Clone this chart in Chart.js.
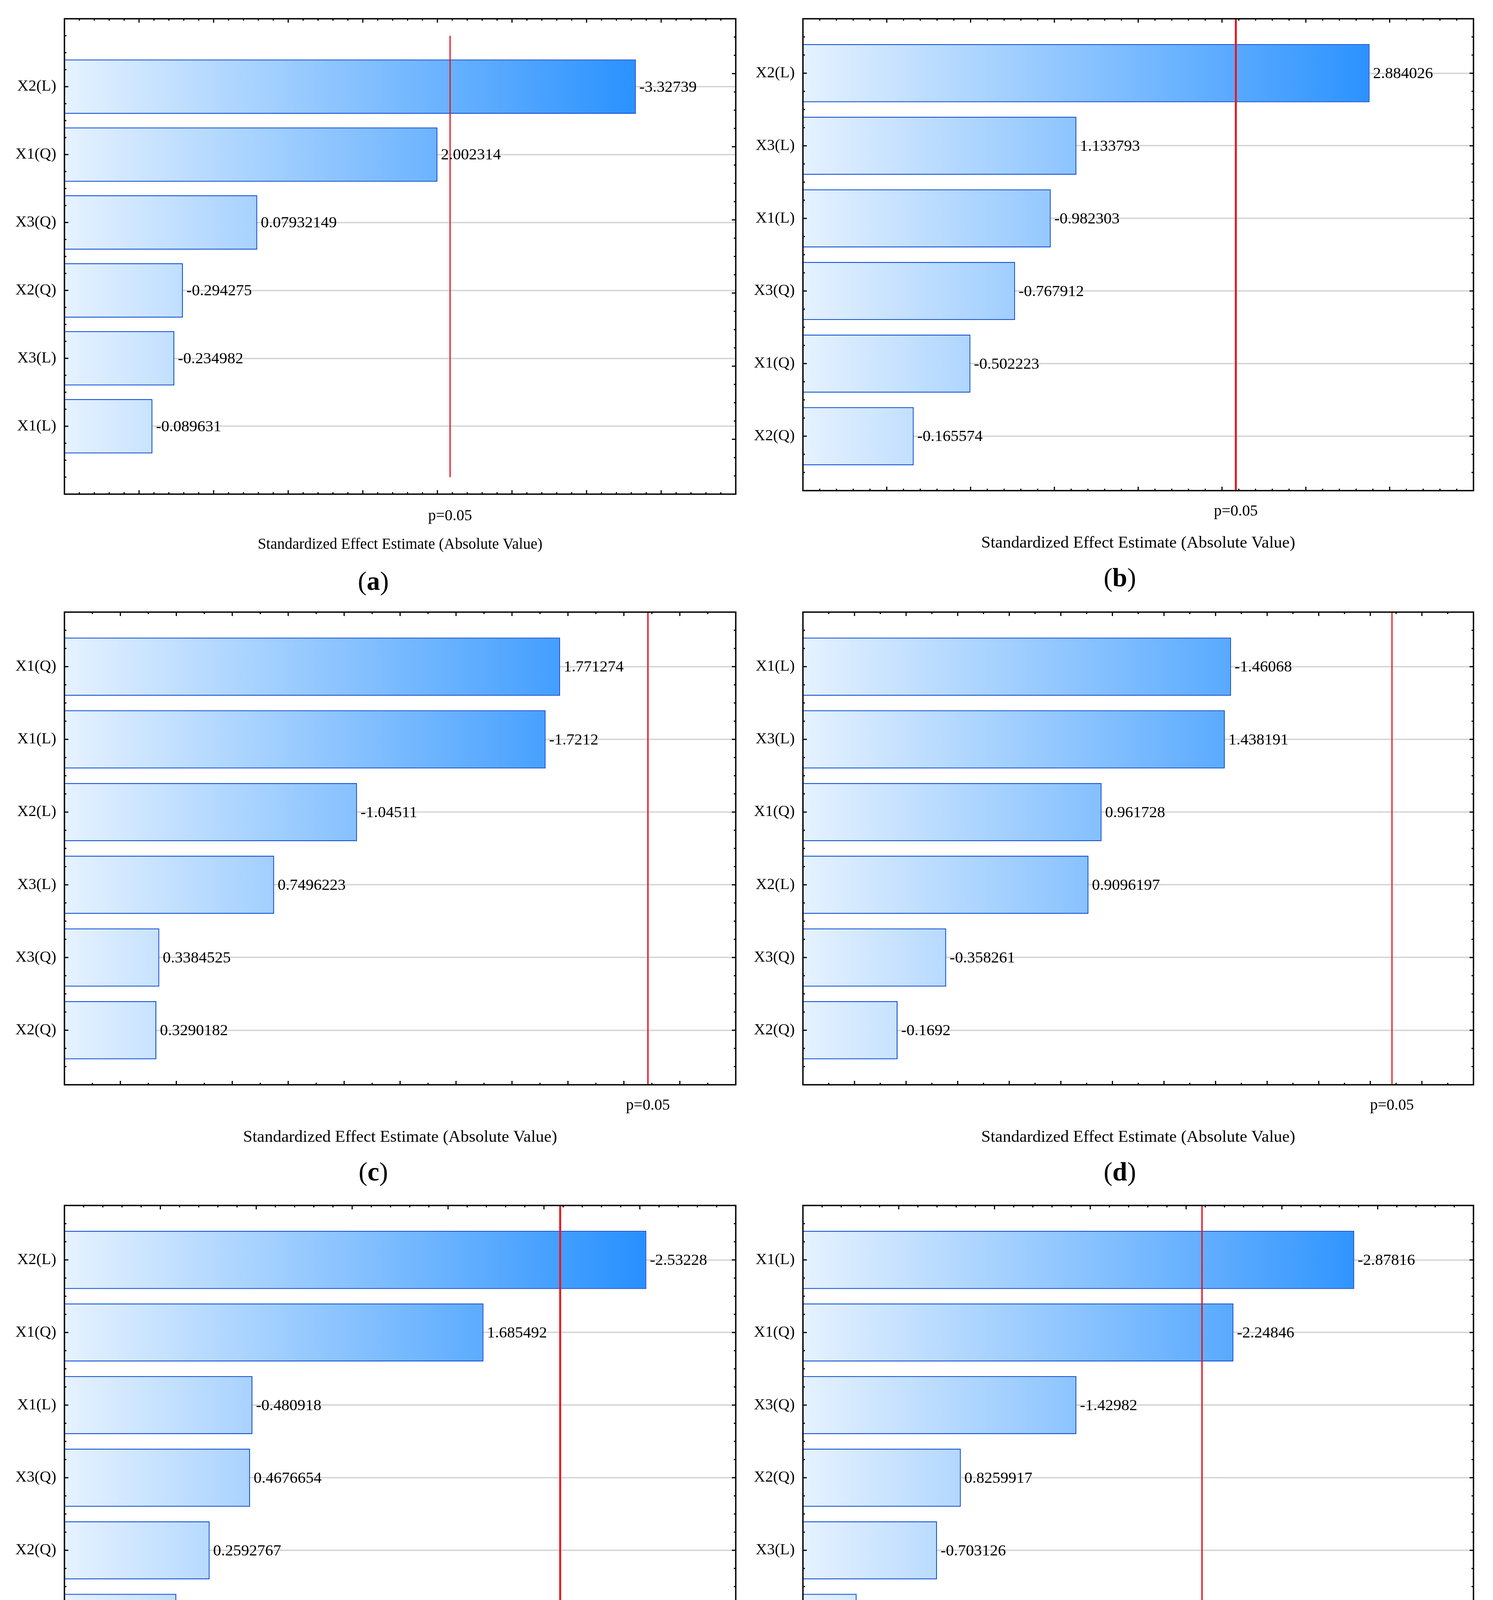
<!DOCTYPE html>
<html>
<head>
<meta charset="utf-8">
<script src="https://cdn.jsdelivr.net/npm/chart.js@4.4.1/dist/chart.umd.min.js"></script>
<style>
html,body{margin:0;padding:0;background:#fff;}
#page{position:relative;width:3823px;height:4591px;background:#fff;overflow:hidden;}
.panel{position:absolute;}
.cap{position:absolute;text-align:center;font-family:'Liberation Serif','Times New Roman',serif;font-size:68px;line-height:68px;color:#000;}
.cap b{font-weight:bold;}
</style>
</head>
<body>
<div id="page"></div>
<script>
// ---------- DATA ----------
// bar lengths are in axis units of each panel's (unlabelled) x axis
const catsA = ['X2(L)','X1(Q)','X3(Q)','X2(Q)','X3(L)','X1(L)'];
const lenA  = [7.66, 5.00, 2.585, 1.589, 1.474, 1.18];
const effA  = [-3.32739, 2.002314, 0.07932149, -0.294275, -0.234982, -0.089631];
const pA    = 5.17;

const catsB = ['X2(L)','X3(L)','X1(L)','X3(Q)','X1(Q)','X2(Q)'];
const lenB  = [6.76, 3.263, 2.957, 2.531, 1.998, 1.322];
const effB  = [2.884026, 1.133793, -0.982303, -0.767912, -0.502223, -0.165574];
const pB    = 5.165;

const catsC = ['X1(Q)','X1(L)','X2(L)','X3(L)','X3(Q)','X2(Q)'];
const lenC  = [8.86, 8.60, 5.23, 3.748, 1.695, 1.644];
const effC  = [1.771274, -1.7212, -1.04511, 0.7496223, 0.3384525, 0.3290182];
const pC    = 10.43;

const catsD = ['X1(L)','X3(L)','X1(Q)','X2(L)','X3(Q)','X2(Q)'];
const lenD  = [8.30, 8.18, 5.79, 5.535, 2.777, 1.836];
const effD  = [-1.46068, 1.438191, 0.961728, 0.9096197, -0.358261, -0.1692];
const pD    = 11.42;

const catsE = ['X2(L)','X1(Q)','X1(L)','X3(Q)','X2(Q)','X3(L)'];
const lenE  = [6.067, 4.369, 1.961, 1.936, 1.514, 1.167];
const effE  = [-2.53228, 1.685492, -0.480918, 0.4676654, 0.2592767, -0.084789];
const pE    = 5.169;

const catsF = ['X1(L)','X1(Q)','X3(Q)','X2(Q)','X3(L)','X2(L)'];
const lenF  = [5.755, 4.494, 2.855, 1.648, 1.400, 0.561];
const effF  = [-2.87816, -2.24846, -1.42982, 0.8259917, -0.703126, 0.2812117];
const pF    = 4.166;

const pLabel = 'p=0.05';
const xTitle = 'Standardized Effect Estimate (Absolute Value)';

// ---------- LAYOUT / STYLE ----------
const FONT = "'Liberation Serif','Times New Roman',serif";
const panels = [
  {L:'a', cats:catsA, len:lenA, eff:effA, p:pA, col:0, row:0, frame:[165,48,1884,1265], yMin:-1,    yMax:6,    xMax:9,  sub:5, redW:3,   redC:'#e3141c', titleSize:39, pDy:56, tDy:130},
  {L:'b', cats:catsB, len:lenB, eff:effB, p:pB, col:1, row:0, frame:[2056,48,3773,1256], yMin:-0.75, yMax:5.75, xMax:8,  sub:5, redW:5,   redC:'#f0141c', titleSize:43, pDy:53, tDy:135},
  {L:'c', cats:catsC, len:lenC, eff:effC, p:pC, col:0, row:1, frame:[165,1567,1884,2777], yMin:-0.75, yMax:5.75, xMax:12, sub:2, redW:3.5, redC:'#e8141c', titleSize:43, pDy:53, tDy:135},
  {L:'d', cats:catsD, len:lenD, eff:effD, p:pD, col:1, row:1, frame:[2056,1567,3773,2777], yMin:-0.75, yMax:5.75, xMax:13, sub:2, redW:3,   redC:'#e3141c', titleSize:43, pDy:53, tDy:135},
  {L:'e', cats:catsE, len:lenE, eff:effE, p:pE, col:0, row:2, frame:[165,3086,1884,4294], yMin:-0.75, yMax:5.75, xMax:7,  sub:5, redW:5,   redC:'#f0141c', titleSize:43, pDy:53, tDy:135},
  {L:'f', cats:catsF, len:lenF, eff:effF, p:pF, col:1, row:2, frame:[2056,3086,3773,4294], yMin:-0.75, yMax:5.75, xMax:7,  sub:5, redW:3.5, redC:'#e3141c', titleSize:43, pDy:53, tDy:135}
];
const rowTops = [0, 1520, 3040];
const colLefts = [0, 1912];
const colWidths = [1912, 1911];
const RED_SPAN = [-0.75, 5.75];

function barGradient(c){
  const ch = c.chart, ca = ch.chartArea;
  if (!ca) return '#8ec5ff';
  const g = ch.ctx.createLinearGradient(ca.left, 0, ca.left + 0.9*(ca.right-ca.left), 0);
  g.addColorStop(0, '#e6f2ff');
  g.addColorStop(1, '#1f8cff');
  return g;
}

function makeDecor(P){
  return {
    id: 'decor_' + P.L,
    afterDatasetsDraw(chart){
      const ctx = chart.ctx, ca = chart.chartArea;
      const sx = chart.scales.x, sy = chart.scales.y, sy2 = chart.scales.y2;
      ctx.save();
      // value labels next to the bars
      ctx.fillStyle = '#000';
      ctx.font = '41px ' + FONT;
      ctx.textAlign = 'left';
      ctx.textBaseline = 'middle';
      const meta = chart.getDatasetMeta(0);
      meta.data.forEach((el, i) => {
        ctx.fillText(String(P.eff[i]), el.x + 9, el.y + 2);
      });
      // tick marks (inward) on all four sides
      ctx.strokeStyle = '#000';
      ctx.lineWidth = 3;
      const seg = (x1,y1,x2,y2) => { ctx.beginPath(); ctx.moveTo(x1,y1); ctx.lineTo(x2,y2); ctx.stroke(); };
      for (let k = 1; k < P.xMax * P.sub; k++) {
        const x = sx.getPixelForValue(k / P.sub);
        const len = (k % P.sub === 0) ? 10 : 5;
        seg(x, ca.bottom, x, ca.bottom - len);
        seg(x, ca.top, x, ca.top + len);
      }
      const sideTicks = (scale, xEdge, dir) => {
        const mn = scale.min, mx = scale.max;
        for (let v = mn + 0.25; v < mx - 1e-6; v += 0.25) {
          const iv = Math.round(v);
          const major = Math.abs(v - iv) < 1e-6 && iv >= 0 && iv <= 5;
          const y = scale.getPixelForValue(v);
          seg(xEdge, y, xEdge + dir * (major ? 10 : 5), y);
        }
      };
      sideTicks(sy, ca.left, 1);
      sideTicks(sy2, ca.right, -1);
      // frame
      ctx.lineWidth = 3.5;
      ctx.strokeRect(ca.left, ca.top, ca.right - ca.left, ca.bottom - ca.top);
      // p label and axis title
      ctx.textAlign = 'center';
      ctx.font = '40px ' + FONT;
      ctx.fillText(pLabel, sx.getPixelForValue(P.p), ca.bottom + P.pDy);
      ctx.font = P.titleSize + 'px ' + FONT;
      ctx.fillText(xTitle, (ca.left + ca.right) / 2, ca.bottom + P.tDy);
      ctx.restore();
    }
  };
}

const page = document.getElementById('page');
panels.forEach(P => {
  const left = colLefts[P.col], top = rowTops[P.row], W = colWidths[P.col];
  const [fl, ft, fr, fb] = P.frame;
  const H = fb - top + 175;
  const wrap = document.createElement('div');
  wrap.className = 'panel';
  wrap.style.left = left + 'px';
  wrap.style.top = top + 'px';
  wrap.style.width = W + 'px';
  wrap.style.height = H + 'px';
  const cv = document.createElement('canvas');
  cv.width = W; cv.height = H;
  cv.style.width = W + 'px'; cv.style.height = H + 'px';
  wrap.appendChild(cv);
  page.appendChild(wrap);

  const cap = document.createElement('div');
  cap.className = 'cap';
  cap.style.left = left + 'px';
  cap.style.width = W + 'px';
  cap.style.top = (fb + 188) + 'px';
  cap.innerHTML = '(<b>' + P.L + '</b>)';
  page.appendChild(cap);

  const axisW = fl - left;
  new Chart(cv, {
    type: 'bar',
    data: {
      datasets: [
        {
          type: 'bar',
          data: P.len.map((v, i) => ({x: v, y: i})),
          backgroundColor: barGradient,
          borderColor: '#0f4fd4',
          borderWidth: 2.5,
          barPercentage: 0.8,
          categoryPercentage: 1.0,
          xAxisID: 'x', yAxisID: 'y',
          order: 1
        },
        {
          type: 'line',
          data: [{x: P.p, y: RED_SPAN[0]}, {x: P.p, y: RED_SPAN[1]}],
          borderColor: P.redC,
          borderWidth: P.redW,
          pointRadius: 0,
          fill: false,
          tension: 0,
          xAxisID: 'x', yAxisID: 'y',
          order: 0
        }
      ]
    },
    options: {
      indexAxis: 'y',
      responsive: false,
      maintainAspectRatio: false,
      animation: false,
      devicePixelRatio: 1,
      layout: { padding: { left: 0, top: ft - top, right: (left + W) - fr, bottom: H - (fb - top) } },
      plugins: { legend: {display: false}, tooltip: {enabled: false}, title: {display: false} },
      scales: {
        x: { type: 'linear', min: 0, max: P.xMax, display: false, offset: false },
        y: {
          type: 'linear', position: 'left', reverse: true, min: P.yMin, max: P.yMax,
          offset: false,
          afterBuildTicks: s => { s.ticks = P.cats.map((c, i) => ({value: i})); },
          afterFit: s => { s.width = axisW; },
          ticks: {
            autoSkip: false,
            padding: 21,
            color: '#000',
            font: { family: FONT, size: 40 },
            callback: v => (P.cats[v] !== undefined ? P.cats[v] : '')
          },
          grid: { color: '#d4d4d4', lineWidth: 3.5, drawTicks: false, offset: false },
          border: { display: false }
        },
        y2: { type: 'linear', position: 'right', reverse: true, min: -0.75, max: 5.75, display: false, offset: false }
      }
    },
    plugins: [makeDecor(P)]
  });
});
</script>
</body>
</html>
